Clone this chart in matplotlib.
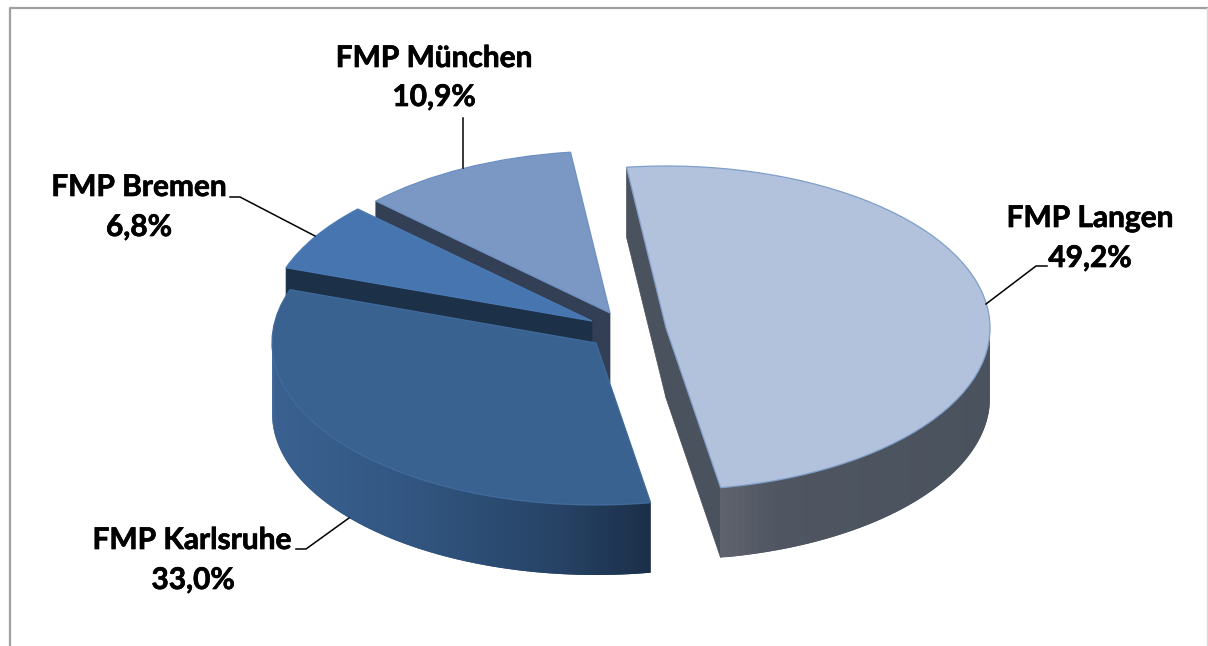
import matplotlib
matplotlib.use('Agg')
import matplotlib.pyplot as plt
import matplotlib.patheffects as pe
import numpy as np

names = ['FMP Langen', 'FMP Karlsruhe', 'FMP Bremen', 'FMP München']
shares = [49.2, 33.0, 6.8, 10.9]
share_labels = ['49,2%', '33,0%', '6,8%', '10,9%']

top_colors = ['#b2c1dc', '#396291', '#4675af', '#7b98c4']
edge_colors = ['#7f9fca', '#3f6a9b', '#4a7ab4', '#6d90c2']
cut_colors = ['#4a525e', '#1c3048', '#1c3048', '#323f54']
# where each slice has been pulled out to, reference pixels
apex_px = [(666, 328), (596, 343), (592, 321), (610, 313)]

# pixels of the reference
W, H = 1208, 646
RX, RY = 324, 162
DEPTH = 70 / RY


def mix(c1, c2, t):
    a = np.array(matplotlib.colors.to_rgb(c1))
    b = np.array(matplotlib.colors.to_rgb(c2))
    return tuple(a + (b - a) * t)


def rim_wall(ax, wedge, stops):
    # outer wall, only the front half of the rim shows
    cx, cy = wedge.center
    th = np.radians(np.linspace(wedge.theta1, wedge.theta2, 160))
    xs = cx + wedge.r * np.cos(th)
    ys = cy + wedge.r * np.sin(th)
    xpos = [s[0] for s in stops]
    for i in range(len(th) - 1):
        if np.sin(th[i]) > 0.01 and np.sin(th[i + 1]) > 0.01:
            continue
        j = min(i + 2, len(th) - 1)
        px_x = (xs[i] + xs[i + 1]) / 2 * RX
        k = np.searchsorted(xpos, px_x)
        k = min(max(k, 1), len(stops) - 1)
        t = np.clip((px_x - stops[k - 1][0]) / (stops[k][0] - stops[k - 1][0]), 0, 1)
        col = mix(stops[k - 1][1], stops[k][1], t)
        # strips overlap so no seams show
        ax.fill([xs[i], xs[j], xs[j], xs[i]],
                [ys[i], ys[j], ys[j] - DEPTH, ys[i] - DEPTH],
                color=col, lw=0, zorder=wedge.get_zorder() - 0.5)


def cut_wall(ax, wedge, angle, color):
    cx, cy = wedge.center
    x = cx + wedge.r * np.cos(np.radians(angle))
    y = cy + wedge.r * np.sin(np.radians(angle))
    ax.fill([cx, x, x, cx], [cy, y, y - DEPTH, cy - DEPTH],
            color=color, lw=0.5, zorder=wedge.get_zorder() - 0.6)


fig = plt.figure(figsize=(W / 100, H / 100), dpi=100)

# pie axes: one data unit is one radius, y squashed by the limits
ax = fig.add_axes([0, 0, 1, 1])
wedges, _ = ax.pie(shares, startangle=97, counterclock=False,
                   colors=top_colors, radius=1, normalize=True)
ax.set_aspect('auto')
ax.set_xlim(0, W / RX)
ax.set_ylim(-H / RY, 0)
ax.axis('off')

# back to front: München, Bremen, Karlsruhe, Langen
order = [3, 2, 1, 0]
for z, i in enumerate(order):
    wedges[i].set_center((apex_px[i][0] / RX, -apex_px[i][1] / RY))
    wedges[i].set_zorder(10 + z * 2)
    wedges[i].set_edgecolor(edge_colors[i])
    wedges[i].set_linewidth(0.9)

cut_wall(ax, wedges[3], wedges[3].theta2, cut_colors[3])
cut_wall(ax, wedges[2], wedges[2].theta2, cut_colors[2])
rim_wall(ax, wedges[1], [(270, '#3a6191'), (420, '#31557f'), (560, '#264265'), (655, '#1b2e47')])
cut_wall(ax, wedges[0], wedges[0].theta1, cut_colors[0])
cut_wall(ax, wedges[0], wedges[0].theta2, cut_colors[0])
rim_wall(ax, wedges[0], [(720, '#5f636e'), (780, '#4f5661'), (990, '#4a525e')])

# frame, leaders and labels in reference pixels
px = fig.add_axes([0, 0, 1, 1], facecolor='none')
px.set_xlim(0, W)
px.set_ylim(H, 0)
px.axis('off')
px.plot([9.5, 9.5, 1206.5], [H, 8, 8], color='#a0a0a0', lw=1.6, clip_on=False)
px.plot([1206.5, 1206.5], [8, H], color='#d9d9d9', lw=1.0)

leaders = [([1047, 1036, 986], [266, 266, 304]),
           ([296, 306, 349], [549, 549, 518]),
           ([230, 240, 315], [197, 197, 236]),
           ([463, 463], [118, 168])]
name_pos = [(1090, 218), (192, 540), (139, 187), (434, 58)]
value_pos = [(1090, 258), (193, 580), (139, 227), (434, 97)]
heavier = [pe.withStroke(linewidth=0.5, foreground='black')]

for i in range(len(names)):
    px.plot(leaders[i][0], leaders[i][1], color='black', lw=1.1)
    px.text(name_pos[i][0], name_pos[i][1], names[i], family='Lato', weight='bold',
            size=21.5, ha='center', va='center', color='black', path_effects=heavier)
    px.text(value_pos[i][0], value_pos[i][1], share_labels[i], family='Lato', weight='bold',
            size=21.5, ha='center', va='center', color='black', path_effects=heavier)

fig.savefig('out.png', dpi=100)
